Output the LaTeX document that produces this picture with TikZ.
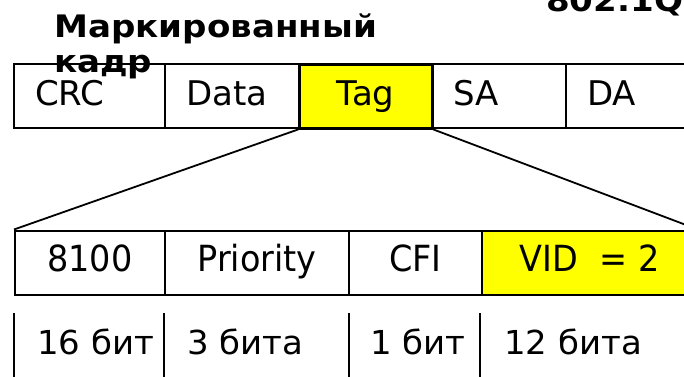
\documentclass[tikz,border=0pt]{standalone}
\usepackage{fontspec}
\setmainfont{DejaVu Sans}
\newfontfamily\narrowfam[FakeStretch=0.93]{DejaVu Sans}
\newfontfamily\bitsfam[FakeStretch=1.03]{DejaVu Sans}
\newfontfamily\titlefam[FakeStretch=1.1]{DejaVu Sans}
\definecolor{tagyellow}{RGB}{255,255,0}
\begin{document}
\begin{tikzpicture}[x=1bp, y=-1bp,
  cell/.style={draw, line width=2bp, anchor=north west, inner ysep=0pt,
    minimum height=64bp, text height=26bp, text depth=8bp},
  topfont/.style={font=\fontsize{34bp}{40bp}\selectfont},
  botfont/.style={font=\narrowfam\fontsize{36bp}{42bp}\selectfont},
  lcell/.style={cell, topfont, inner xsep=21bp, text width=#1-42bp, align=left},
  ccell/.style={cell, inner xsep=0pt, minimum width=#1},
  bits/.style={anchor=base west, inner sep=0pt, font=\bitsfam\fontsize{33bp}{40bp}\selectfont},
  titlefont/.style={anchor=base west, inner sep=0pt, font=\titlefam\fontsize{31bp}{36bp}\selectfont\bfseries},
  sep/.style={line width=2bp},
  fan/.style={line width=1.8bp}
]
\useasboundingbox (0,0) rectangle (684,376);
\clip (0,0) rectangle (684,376);
% top row
\node[lcell=151bp] (crc) at (13,63) {CRC};
\node[lcell=134bp] (data) at (164,63) {Data};
\node[ccell=133bp, topfont, fill=tagyellow, line width=2.5bp] (tag) at (298,63) {Tag};
\node[lcell=134bp] (sa) at (431,63) {SA};
\node[lcell=134bp] (da) at (565,63) {DA};
% bottom row
\node[ccell=150bp, botfont] (tpid) at (14,229.5) {8100};
\node[ccell=184bp, botfont] (prio) at (164,229.5) {Priority};
\node[ccell=133bp, botfont] (cfi) at (348,229.5) {CFI};
\node[ccell=215bp, botfont, fill=tagyellow] (vid) at (481,229.5) {VID\ \ = 2};
% fan lines
\draw[fan] (tag.south west) -- (tpid.north west);
\draw[fan] (tag.south east) -- (vid.north east);
% bit widths
\coordinate (s1) at (14,313); \coordinate (s2) at (164,313);
\coordinate (s3) at (349,313); \coordinate (s4) at (480,313);
\foreach \s in {s1,s2,s3,s4} \draw[sep] (\s) -- ++(0,70);
\node[bits] (b1) at (37,354) {16 бит};
\node[bits] (b2) at (187,354) {3 бита};
\node[bits] (b3) at (370,354) {1 бит};
\node[bits] (b4) at (504,354) {12 бита};
% titles
\node[titlefont] (title1) at (54,37) {Маркированный};
\node[titlefont] (title2) at (54,72) {кадр};
\node[titlefont] (std) at (546,11) {802.1Q};
\end{tikzpicture}
\end{document}
